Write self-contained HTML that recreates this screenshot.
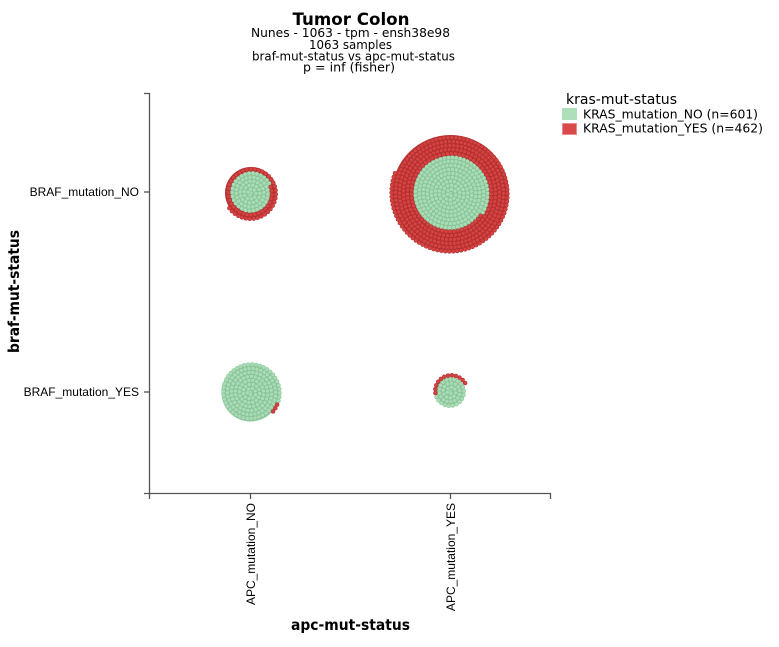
<!DOCTYPE html>
<html><head><meta charset="utf-8"><style>
html,body{margin:0;padding:0;background:#fff;}
svg{display:block;}
</style></head><body>
<svg id="s" width="779" height="647" viewBox="0 0 779 647" xmlns="http://www.w3.org/2000/svg">
<rect width="779" height="647" fill="#fff"/>
<!-- title -->
<text x="351" y="25" font-family="DejaVu Sans, Liberation Sans, sans-serif" font-weight="bold" font-size="17" text-anchor="middle" textLength="117" lengthAdjust="spacingAndGlyphs" fill="#000">Tumor Colon</text>
<g font-family="DejaVu Sans, Liberation Sans, sans-serif" font-size="12" text-anchor="middle" fill="#000">
<text x="350.5" y="37" textLength="199" lengthAdjust="spacingAndGlyphs">Nunes - 1063 - tpm - ensh38e98</text>
<text x="350.5" y="49" textLength="83" lengthAdjust="spacingAndGlyphs">1063 samples</text>
<text x="353.5" y="60.5" textLength="203" lengthAdjust="spacingAndGlyphs">braf-mut-status vs apc-mut-status</text>
<text x="349" y="71.5" textLength="92" lengthAdjust="spacingAndGlyphs">p = inf (fisher)</text>
</g>
<!-- legend -->
<text x="566" y="104" font-family="DejaVu Sans, Liberation Sans, sans-serif" font-size="14" textLength="111" lengthAdjust="spacingAndGlyphs" fill="#000">kras-mut-status</text>
<rect x="562" y="108" width="15" height="12" fill="#addfba"/>
<rect x="562.5" y="123.5" width="14" height="11" fill="#d94a4a" stroke="#ee8a8a" stroke-width="1"/>
<g font-family="DejaVu Sans, Liberation Sans, sans-serif" font-size="12.5" fill="#000">
<text x="583" y="118.5" textLength="175" lengthAdjust="spacingAndGlyphs">KRAS_mutation_NO (n=601)</text>
<text x="583" y="132.5" textLength="180" lengthAdjust="spacingAndGlyphs">KRAS_mutation_YES (n=462)</text>
</g>
<!-- axes -->
<g fill="none" stroke="#555" stroke-width="1.3">
<path d="M144,93.5 H149.5 V493.5 H144"/>
<path d="M149.5,499 V493.5 H550.5 V499"/>
<path d="M144,192 H149.5"/>
<path d="M144,392 H149.5"/>
<path d="M250.5,493.5 V499"/>
<path d="M450.5,493.5 V499"/>
</g>
<g font-family="Liberation Sans, Arial, sans-serif" font-size="12" fill="#000">
<text x="139" y="196" text-anchor="end">BRAF_mutation_NO</text>
<text x="139" y="396" text-anchor="end">BRAF_mutation_YES</text>
<text transform="translate(255,503) rotate(-90)" text-anchor="end">APC_mutation_NO</text>
<text transform="translate(455,503) rotate(-90)" text-anchor="end">APC_mutation_YES</text>
</g>
<text x="350.5" y="630" font-family="DejaVu Sans, Liberation Sans, sans-serif" font-weight="bold" font-size="15" text-anchor="middle" textLength="119" lengthAdjust="spacingAndGlyphs" fill="#000">apc-mut-status</text>
<text transform="translate(19,291.5) rotate(-90)" font-family="DejaVu Sans, Liberation Sans, sans-serif" font-weight="bold" font-size="15" text-anchor="middle" textLength="123" lengthAdjust="spacingAndGlyphs" fill="#000">braf-mut-status</text>
<!-- fallback disks -->
<g id="bg">
<circle cx="251" cy="193" r="26" fill="#b83535"/>
<circle cx="251" cy="193" r="19.5" fill="#8cc79b"/>
<circle cx="450.5" cy="193.5" r="58.5" fill="#b83535"/>
<circle cx="450.5" cy="193.5" r="37" fill="#8cc79b"/>
<circle cx="250.5" cy="392.5" r="29" fill="#8cc79b"/>
<circle cx="450.5" cy="391.5" r="14.5" fill="#8cc79b"/>
</g>
<g id="dots"></g>
</svg>
<script>
(function(){
  var g=document.getElementById("dots");
  var c=2.24, k=Math.sqrt(4*Math.PI);
  var D=Math.PI/180;
  var groups=[
    {cx:251,cy:193,gn:85,rn:55,e:145},
    {cx:450.5,cy:193.5,gn:280,rn:418,e:200},
    {cx:250.5,cy:392.5,gn:171,rn:3,e:40},
    {cx:450.5,cy:391.5,gn:46,rn:12,e:330}
  ];
  var html="";
  groups.forEach(function(q){
    var N=q.gn+q.rn;
    var off=q.e*D-k*Math.sqrt(N-1);
    for(var i=0;i<N;i++){
      var r=c*Math.sqrt(i), th=k*Math.sqrt(i)+off;
      var x=q.cx+r*Math.cos(th), y=q.cy+r*Math.sin(th);
      var green=i<q.gn;
      html+='<circle cx="'+x.toFixed(2)+'" cy="'+y.toFixed(2)+'" r="2" fill="'+(green?'#a9dcb6':'#d44242')+'" stroke="'+(green?'#86c195':'#ad2c2c')+'" stroke-width="0.5"/>';
    }
  });
  g.innerHTML=html;
})();
</script>
</body></html>
